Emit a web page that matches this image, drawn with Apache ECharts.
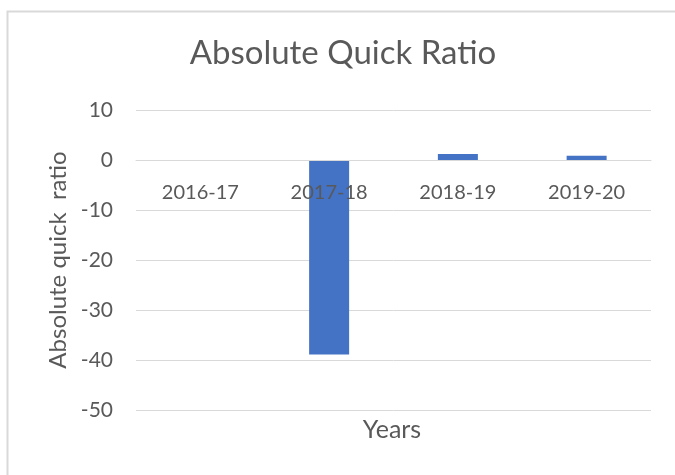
<!DOCTYPE html>
<html>
<head>
<meta charset="utf-8">
<style>
  html, body { margin: 0; padding: 0; background: #ffffff; }
  #chart { width: 675px; height: 475px; }
</style>
<script src="https://cdn.jsdelivr.net/npm/echarts@6/dist/echarts.min.js"></script>
</head>
<body>
<div id="chart"></div>
<script>
// Absolute quick ratio by financial year
const years = ['2016-17', '2017-18', '2018-19', '2019-20'];
const ratios = [0, -38.9, 1.2, 0.85];
const yTicks = { min: -50, max: 10, interval: 10 };

const FONT = 'Lato, "Open Sans", sans-serif';
const TEXT = '#595959';
const GRID = '#d9d9d9';

const GRID_TOP = 110, GRID_BOTTOM = 65, CHART_H = 475;
// pixel height of the plot, used to lift the category axis up to the zero line
const plotH = CHART_H - GRID_TOP - GRID_BOTTOM;
const zeroLift = plotH * (0 - yTicks.min) / (yTicks.max - yTicks.min);

const chart = echarts.init(document.getElementById('chart'));
chart.setOption({
  animation: false,
  backgroundColor: '#ffffff',
  graphic: [
    {
      type: 'rect',
      shape: { x: 7.5, y: 11.5, width: 700, height: 500 },
      style: { fill: 'none', stroke: GRID, lineWidth: 2 },
      silent: true
    },
    {
      type: 'text',
      x: 343,
      y: 37,
      style: { text: 'Absolute Quick Ratio', fontFamily: FONT, fontSize: 33, fill: TEXT, align: 'center', verticalAlign: 'top' }
    },
    {
      type: 'text',
      x: 392,
      y: 417,
      style: { text: 'Years', fontFamily: FONT, fontSize: 25, fill: TEXT, align: 'center', verticalAlign: 'top' }
    }
  ],
  grid: { left: 136, right: 24, top: GRID_TOP, bottom: GRID_BOTTOM },
  xAxis: {
    type: 'category',
    data: years,
    offset: -zeroLift,
    z: 10,
    axisLine: { show: true, onZero: false, lineStyle: { color: GRID, width: 1 } },
    axisTick: { show: false },
    axisLabel: { fontFamily: FONT, fontSize: 20, color: TEXT, margin: 23 }
  },
  yAxis: {
    type: 'value',
    min: yTicks.min,
    max: yTicks.max,
    interval: yTicks.interval,
    name: 'Absolute quick  ratio',
    nameLocation: 'middle',
    nameGap: 62,
    nameTextStyle: { fontFamily: FONT, fontSize: 24, color: TEXT },
    axisLine: { show: false },
    axisTick: { show: false },
    axisLabel: { fontFamily: FONT, fontSize: 21, color: TEXT, margin: 23 },
    splitLine: { lineStyle: { color: GRID, width: 1 } }
  },
  series: [{
    type: 'bar',
    data: ratios,
    barWidth: 40,
    itemStyle: { color: '#4472c4' }
  }]
});
</script>
</body>
</html>
